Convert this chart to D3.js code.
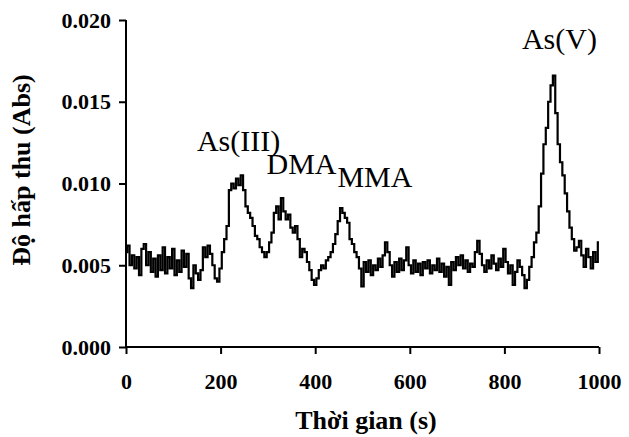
<!DOCTYPE html>
<html><head><meta charset="utf-8">
<script src="https://cdn.jsdelivr.net/npm/d3@7"></script>
<style>body{margin:0;background:#fff}svg{display:block}</style>
</head><body><svg id="c" width="629" height="437"></svg>
<script>
const times = d3.range(0, 1001, 5);
const absorbance = [
0.0058,0.0062,0.0050,0.0056,0.0048,0.0055,0.0044,0.0060,0.0063,0.0050,
0.0058,0.0046,0.0054,0.0043,0.0056,0.0047,0.0061,0.0045,0.0055,0.0048,
0.0060,0.0044,0.0053,0.0046,0.0059,0.0049,0.0057,0.0042,0.0036,0.0050,
0.0045,0.0041,0.0047,0.0061,0.0055,0.0062,0.0057,0.0050,0.0042,0.0040,
0.0048,0.0058,0.0066,0.0074,0.0096,0.0100,0.0097,0.0103,0.0099,0.0105,
0.0096,0.0086,0.0082,0.0079,0.0074,0.0068,0.0066,0.0061,0.0058,0.0055,
0.0058,0.0064,0.0070,0.0082,0.0086,0.0078,0.0091,0.0083,0.0078,0.0081,
0.0073,0.0070,0.0074,0.0066,0.0055,0.0060,0.0058,0.0052,0.0047,0.0041,
0.0038,0.0042,0.0047,0.0050,0.0048,0.0053,0.0055,0.0058,0.0063,0.0069,
0.0077,0.0085,0.0082,0.0079,0.0076,0.0066,0.0063,0.0058,0.0055,0.0048,
0.0037,0.0052,0.0046,0.0053,0.0044,0.0050,0.0047,0.0054,0.0049,0.0056,
0.0064,0.0058,0.0050,0.0043,0.0052,0.0046,0.0054,0.0047,0.0053,0.0061,
0.0050,0.0045,0.0053,0.0046,0.0051,0.0044,0.0052,0.0048,0.0053,0.0045,
0.0050,0.0047,0.0054,0.0046,0.0051,0.0043,0.0049,0.0038,0.0052,0.0047,
0.0055,0.0050,0.0056,0.0048,0.0053,0.0046,0.0051,0.0049,0.0058,0.0065,
0.0057,0.0050,0.0046,0.0053,0.0048,0.0056,0.0051,0.0047,0.0054,0.0049,
0.0060,0.0052,0.0045,0.0050,0.0038,0.0046,0.0053,0.0049,0.0044,0.0036,
0.0041,0.0049,0.0055,0.0064,0.0070,0.0086,0.0106,0.0124,0.0134,0.0150,
0.0160,0.0166,0.0143,0.0124,0.0113,0.0105,0.0094,0.0083,0.0073,0.0066,
0.0059,0.0061,0.0065,0.0056,0.0049,0.0060,0.0055,0.0048,0.0058,0.0052,
0.0064
];
const xTicks = [0, 200, 400, 600, 800, 1000];
const yTicks = [0, 0.005, 0.010, 0.015, 0.020];
const peakLabels = ["As(III)", "DMA", "MMA", "As(V)"];
const peakTimes = [150, 297, 447, 837];
const peakValues = [0.0120, 0.0106, 0.0098, 0.0182];

const svg = d3.select("#c");
const x = d3.scaleLinear().domain([0, 1000]).range([126, 599]);
const y = d3.scaleLinear().domain([0, 0.020]).range([347, 20]);
const serif = "'Liberation Serif','Times New Roman',serif";

const gx = svg.append("g").attr("transform", "translate(0,347)")
  .call(d3.axisBottom(x).tickValues(xTicks).tickSize(7).tickPadding(19).tickFormat(d3.format("d")));
const gy = svg.append("g").attr("transform", "translate(126,0)")
  .call(d3.axisLeft(y).tickValues(yTicks).tickSize(7).tickPadding(8).tickFormat(d3.format(".3f")));
[gx, gy].forEach(g => {
  g.selectAll("path,line").attr("stroke", "#000").attr("stroke-width", 2);
  g.select(".domain").attr("d", null);
  g.selectAll("text").attr("fill", "#000").style("font-family", serif)
   .style("font-weight", "bold").style("font-size", "22px");
});
svg.append("line").attr("x1", 126).attr("x2", 126).attr("y1", y(0.020)).attr("y2", 347).attr("stroke","#000").attr("stroke-width",2);
svg.append("line").attr("x1", 126).attr("x2", 599).attr("y1", 347).attr("y2", 347).attr("stroke","#000").attr("stroke-width",2);

const line = d3.line().x((d,i) => x(times[i])).y(d => y(d)).curve(d3.curveStep);
svg.append("path").datum(absorbance).attr("d", line)
  .attr("fill", "none").attr("stroke", "#000").attr("stroke-width", 2.2).attr("stroke-linejoin", "miter");

svg.append("text").attr("x", 366).attr("y", 429).attr("text-anchor", "middle")
  .style("font-family", serif).style("font-weight", "bold").style("font-size", "26px")
  .text("Thời gian (s)");
svg.append("text").attr("transform", "translate(30,170) rotate(-90)").attr("text-anchor", "middle")
  .style("font-family", serif).style("font-weight", "bold").style("font-size", "26px")
  .text("Độ hấp thu (Abs)");

svg.selectAll("text.peak").data(peakLabels).enter().append("text").attr("class","peak")
  .attr("x", (d,i) => x(peakTimes[i])).attr("y", (d,i) => y(peakValues[i]))
  .style("font-family", serif).style("font-size", "30px").attr("fill", "#000")
  .text(d => d);
</script></body></html>
